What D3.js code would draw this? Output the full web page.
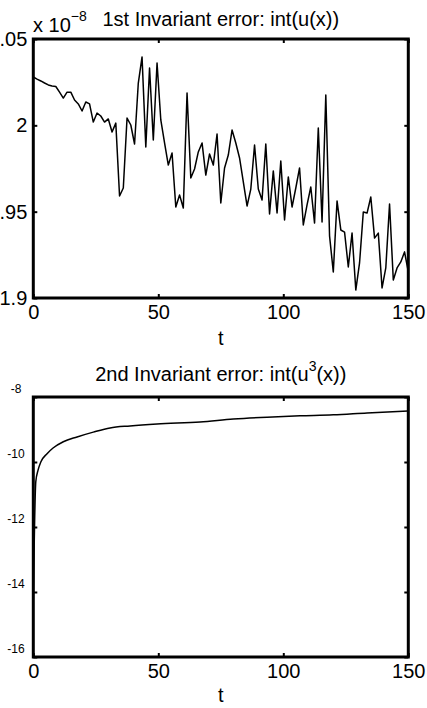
<!DOCTYPE html>
<html>
<head>
<meta charset="utf-8">
<title>Invariant errors</title>
<script src="https://cdn.jsdelivr.net/npm/d3@7"></script>
<style>
  body { margin: 0; background: #fff; }
  svg { display: block; font-family: "Liberation Sans", Arial, sans-serif; }
</style>
</head>
<body>
<div id="chart"></div>
<script>
// time grid of the first plot (sampled every 1.5)
var tTop = d3.range(0, 150.1, 1.5);
// 1st invariant error, in units of 1e-8
var err1 = [
  2.0280, 2.0268, 2.0257, 2.0245, 2.0234, 2.0228, 2.0225, 2.0192, 2.0158, 2.0192,
  2.0192, 2.0147, 2.0124, 2.0083, 2.0135, 2.0124, 2.0019, 2.0071, 2.0054, 2.0019,
  2.0037, 1.9961, 2.0013, 1.9591, 1.9637, 2.0042, 2.0002, 1.9892, 2.0245, 2.0396,
  1.9875, 2.0332, 1.9915, 2.0361, 2.0031, 1.9898, 1.9770, 1.9840, 1.9527, 1.9597,
  1.9521, 2.0187, 1.9695, 1.9747, 1.9846, 1.9898, 1.9712, 1.9834, 1.9770, 1.9950,
  1.9550, 1.9753, 1.9828, 1.9973, 1.9898, 1.9811, 1.9672, 1.9533, 1.9631, 1.9886,
  1.9631, 1.9568, 1.9892, 1.9487, 1.9736, 1.9492, 1.9793, 1.9452, 1.9701, 1.9527,
  1.9637, 1.9753, 1.9423, 1.9539, 1.9643, 1.9434, 1.9985, 1.9440, 2.0176, 1.9360,
  1.9151, 1.9562, 1.9394, 1.9382, 1.9180, 1.9376, 1.9046, 1.9203, 1.9498, 1.9492,
  1.9585, 1.9347, 1.9376, 1.9058, 1.9174, 1.9544, 1.9104, 1.9174, 1.9209, 1.9267,
  1.9151
];
var yTicksTop = [1.9, 1.95, 2, 2.05];
var xTicks = [0, 50, 100, 150];

// 2nd invariant error (log scale)
var tBot = [0, 1, 1.9, 3, 5.5, 7.9, 12, 17.5, 24, 30.7, 38.7, 49.5, 66.7, 80, 93.5, 106.7, 120, 133.5, 150];
var err2 = [5.6e-15, 2.5e-11, 5.6e-11, 1.0e-10, 1.8e-10, 2.7e-10, 4.2e-10, 5.9e-10, 8.3e-10, 1.12e-9,
            1.29e-9, 1.48e-9, 1.70e-9, 2.09e-9, 2.40e-9, 2.63e-9, 2.82e-9, 3.24e-9, 3.72e-9];
var yTicksBot = [1e-16, 1e-14, 1e-12, 1e-10, 1e-8];

var W = 427, H = 708;
var left = 33.3, right = 408.3;

var svg = d3.select("#chart").append("svg")
    .attr("width", W)
    .attr("height", H);

var x = d3.scaleLinear().domain([0, 150]).range([left, right]);

// ---------- top plot ----------
var top1 = 39, bot1 = 298;
var y1 = d3.scaleLinear().domain([1.9, 2.05]).range([bot1, top1]);

function frame(g, yScale, t, b, yTicks) {
  g.append("g")
      .attr("transform", "translate(0," + b + ")")
      .style("font-size", "20px")
      .call(d3.axisBottom(x).tickValues(xTicks).tickSize(-4).tickPadding(6.5))
      .call(function(a) { a.select(".domain").remove(); });
  g.append("g")
      .attr("transform", "translate(0," + t + ")")
      .call(d3.axisTop(x).tickValues(xTicks).tickSize(-4).tickFormat(""))
      .call(function(a) { a.select(".domain").remove(); });
  g.append("g")
      .attr("transform", "translate(" + right + ",0)")
      .call(d3.axisRight(yScale).tickValues(yTicks).tickSize(-4).tickFormat(""))
      .call(function(a) { a.select(".domain").remove(); });
  g.selectAll(".tick line").attr("stroke", "#000").attr("stroke-width", 2);
  g.selectAll(".tick text").attr("fill", "#000");
  g.append("rect")
      .attr("x", left).attr("y", t)
      .attr("width", right - left).attr("height", b - t)
      .attr("fill", "none").attr("stroke", "#000").attr("stroke-width", 3);
}

var g1 = svg.append("g");
g1.append("path")
    .datum(err1)
    .attr("fill", "none")
    .attr("stroke", "#000")
    .attr("stroke-width", 1.5)
    .attr("stroke-linejoin", "round")
    .attr("d", d3.line().x(function(d, i) { return x(tTop[i]); }).y(function(d) { return y1(d); }));

g1.append("g")
    .attr("transform", "translate(" + left + ",0)")
    .style("font-size", "20px")
    .call(d3.axisLeft(y1).tickValues(yTicksTop).tickSize(-4).tickPadding(6).tickFormat(d3.format("")))
    .call(function(a) { a.select(".domain").remove(); });
frame(g1, y1, top1, bot1, yTicksTop);

var ex = g1.append("text").attr("x", 33).attr("y", 32).style("font-size", "20px");
ex.append("tspan").text("x 10");
ex.append("tspan").attr("dy", -11).style("font-size", "14px").text("\u22128");

g1.append("text")
    .attr("x", (left + right) / 2).attr("y", 26)
    .attr("text-anchor", "middle")
    .style("font-size", "20px")
    .text("1st Invariant error: int(u(x))");
g1.append("text")
    .attr("x", (left + right) / 2).attr("y", 345)
    .attr("text-anchor", "middle")
    .style("font-size", "20px")
    .text("t");

// ---------- bottom plot ----------
var top2 = 397, bot2 = 657;
var y2 = d3.scaleLog().domain([1e-16, 1e-8]).range([bot2, top2]);

var g2 = svg.append("g");
g2.append("path")
    .datum(err2)
    .attr("fill", "none")
    .attr("stroke", "#000")
    .attr("stroke-width", 1.5)
    .attr("stroke-linejoin", "round")
    .attr("d", d3.line().curve(d3.curveMonotoneX)
      .x(function(d, i) { return x(tBot[i]); }).y(function(d) { return y2(d); }));

// only the exponents of the 10^n labels are left inside the picture
g2.append("g")
    .attr("transform", "translate(" + left + ",0)")
    .style("font-size", "12px")
    .call(d3.axisLeft(y2).tickValues(yTicksBot).tickSize(-4)
      .tickFormat(function(d) { return "-" + Math.round(-Math.log10(d)); }))
    .call(function(a) {
      a.select(".domain").remove();
      a.selectAll(".tick text").attr("x", 16 - left).attr("y", -8).attr("text-anchor", "middle");
    });
frame(g2, y2, top2, bot2, yTicksBot);

var tt = g2.append("text")
    .attr("x", (left + right) / 2).attr("y", 381)
    .attr("text-anchor", "middle")
    .style("font-size", "20px");
tt.append("tspan").text("2nd Invariant error: int(u");
tt.append("tspan").attr("dy", -10).style("font-size", "14px").text("3");
tt.append("tspan").attr("dy", 10).text("(x))");

g2.append("text")
    .attr("x", (left + right) / 2).attr("y", 702)
    .attr("text-anchor", "middle")
    .style("font-size", "20px")
    .text("t");
</script>
</body>
</html>
